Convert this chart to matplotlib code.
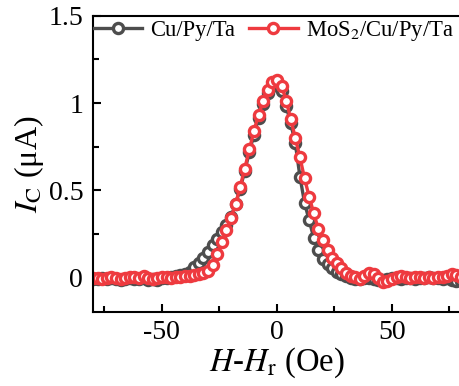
import numpy as np
import matplotlib.pyplot as plt
from matplotlib.ticker import MultipleLocator

plt.rcParams['font.family'] = ['Liberation Serif', 'DejaVu Serif']
plt.rcParams['mathtext.fontset'] = 'stix'

# field sweep (Oe)
field = np.arange(-80, 81, 2)

# Cu/Py/Ta
ic_ref = [-0.005, -0.005, 0.0, -0.005, 0.0, -0.005, -0.01, -0.005, 0.0, -0.005,
          -0.005, 0.0, -0.01, -0.005, -0.01, 0.0, 0.0, 0.005, 0.01, 0.015,
          0.02, 0.035, 0.06, 0.085, 0.115, 0.15, 0.19, 0.225, 0.265, 0.305,
          0.35, 0.42, 0.51, 0.61, 0.72, 0.82, 0.915, 0.995, 1.06, 1.10,
          1.115,
          1.07, 0.985, 0.885, 0.77, 0.58, 0.43, 0.33, 0.23, 0.16, 0.11,
          0.08, 0.055, 0.035, 0.02, 0.01, 0.0, -0.005, -0.005, 0.0, 0.0,
          -0.005, -0.01, -0.01, -0.005, 0.0, 0.0, -0.005, 0.0, 0.0, -0.005,
          0.0, 0.0, 0.005, 0.0, 0.0, -0.005, 0.0, -0.01, -0.02, -0.02]

# MoS2/Cu/Py/Ta
ic_mos2 = [0.0, 0.0, -0.005, 0.0, 0.005, 0.0, -0.005, 0.0, 0.005, 0.005,
           0.0, 0.012, 0.0, -0.005, 0.0, 0.005, 0.005, 0.0, 0.005, 0.005,
           0.008, 0.012, 0.017, 0.022, 0.03, 0.04, 0.075, 0.135, 0.205, 0.275,
           0.345, 0.42, 0.52, 0.625, 0.735, 0.84, 0.935, 1.01, 1.075, 1.12,
           1.135,
           1.10, 1.015, 0.91, 0.80, 0.69, 0.57, 0.465, 0.37, 0.28, 0.215,
           0.16, 0.115, 0.085, 0.055, 0.03, 0.012, 0.002, -0.005, 0.01, 0.03,
           0.02, 0.0, -0.025, -0.02, -0.005, 0.005, 0.01, 0.005, 0.0, 0.005,
           0.005, 0.0, 0.005, 0.0, 0.005, 0.005, 0.01, 0.02, 0.015, 0.005]

gray = '#4d4d4d'
red = '#ee3a3f'

fig = plt.figure(figsize=(4.6, 3.86), dpi=100)
ax = fig.add_axes([0.202, 0.192, 0.80, 0.767])

style = dict(marker='o', markersize=7.3, markerfacecolor='white',
             markeredgewidth=2.4, linewidth=2.4)
ax.plot(field, ic_ref, color=gray, label='Cu/Py/Ta', **style)
ax.plot(field, ic_mos2, color=red, label='MoS$_2$/Cu/Py/Ta', **style)

ax.set_xlim(-80, 80)
ax.set_ylim(-0.195, 1.5)
ax.xaxis.set_minor_locator(MultipleLocator(25))
ax.yaxis.set_minor_locator(MultipleLocator(0.25))
ax.set_yticks([0, 0.5, 1, 1.5])
ax.set_yticklabels(['0', '0.5', '1', '1.5'])
ax.set_xticks([-50, 0, 50])
ax.set_xticklabels(['-50', '0', '50'])

ax.tick_params(which='both', direction='in', width=1.5, labelsize=20)
ax.tick_params(which='major', length=6)
ax.tick_params(which='minor', length=4)
ax.tick_params(axis='y', pad=7)
ax.tick_params(axis='x', pad=6)
for s in ax.spines.values():
    s.set_linewidth(1.5)
ax.spines['right'].set_visible(False)

ax.set_xlabel('$H$-$H_\\mathrm{r}$ (Oe)', fontsize=23.5, labelpad=0)
ax.set_ylabel('$I_\\mathrm{C}$ (\u03bcA)', fontsize=23, labelpad=2)

ax.legend(loc='upper left', ncol=2, frameon=False, fontsize=16.3,
          handlelength=2.15, columnspacing=0.6, handletextpad=0.35,
          borderaxespad=0.0, borderpad=0.2, bbox_to_anchor=(-0.01, 1.005))

fig.savefig('out.png', dpi=100)
